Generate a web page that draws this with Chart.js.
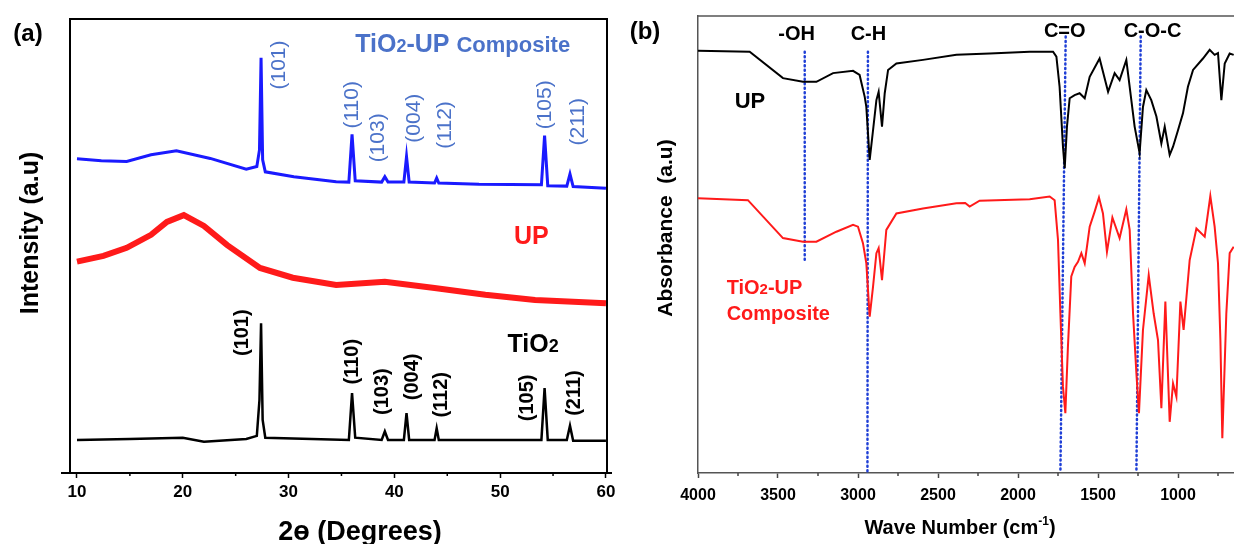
<!DOCTYPE html>
<html>
<head>
<meta charset="utf-8">
<script src="https://cdn.jsdelivr.net/npm/chart.js@4.4.0/dist/chart.umd.min.js"></script>
<style>
  html, body { margin: 0; padding: 0; background: #fff; overflow: hidden; width: 1234px; height: 544px; }
  #wrapA { position: absolute; left: 0; top: 0; width: 620px; height: 544px; }
  #wrapB { position: absolute; left: 620px; top: 0; width: 664px; height: 544px; }
</style>
</head>
<body>
<div id="wrapA"><canvas id="xrdChart" width="620" height="544"></canvas></div>
<div id="wrapB"><canvas id="ftirChart" width="664" height="544"></canvas></div>
<script>
// ---- (a) XRD, 2theta in degrees, intensity in arbitrary units ----
const xrdMajorTicks = [10, 20, 30, 40, 50, 60];
const xrdMinorTicks = [15, 25, 35, 45, 55];

const compositeXRD = [[10, 68.7], [12.3, 68.3], [14.7, 68.1], [17, 69.6], [19.4, 70.5], [22.6, 68.8], [26, 66.4], [27, 67.0],
  [27.25, 70.7], [27.4, 91.3], [27.55, 68.5], [27.8, 65.8], [30.5, 64.7], [34.5, 63.6], [35.7, 63.5], [36, 74.2],
  [36.3, 63.8], [38.8, 63.5], [39.1, 64.7], [39.4, 63.5], [40.9, 63.5], [41.15, 69.2], [41.4, 63.5], [43.8, 63.3],
  [44, 64.4], [44.2, 63.3], [48, 63.0], [53.9, 62.9], [54.2, 73.9], [54.5, 62.7], [56.3, 62.6], [56.6, 65.3],
  [56.9, 62.5], [60, 62.1]];
const upXRD = [[10, 45.7], [12.5, 47.0], [14.7, 48.8], [17, 51.7], [18.5, 54.6], [20.1, 56.1], [22, 53.7], [24.2, 49.4],
  [27.3, 44.3], [30.4, 42.1], [34.5, 40.5], [39.1, 41.2], [43.8, 39.8], [48.6, 38.3], [53.3, 37.1], [60, 36.4]];
const tio2XRD = [[10, 5.8], [15, 6.0], [20, 6.3], [22, 5.4], [26, 6.0], [27, 6.7], [27.25, 14.8], [27.4, 31.9],
  [27.55, 10.3], [27.8, 6.3], [35.7, 5.8], [36, 16.3], [36.3, 6.3], [38.8, 5.8], [39.1, 7.7], [39.4, 5.8],
  [40.9, 5.8], [41.15, 11.8], [41.4, 5.8], [43.8, 5.8], [44, 8.4], [44.2, 5.8], [53.9, 5.8], [54.2, 17.4],
  [54.5, 5.8], [56.3, 5.8], [56.6, 9.0], [56.9, 5.6], [60, 5.6]];

const peakNames = ['(101)', '(110)', '(103)', '(004)', '(112)', '(105)', '(211)'];
const compositeLabelX = [29.1, 36.0, 38.45, 41.85, 44.8, 54.3, 57.35];
const compositeLabelY = [89.7, 80.8, 73.4, 77.8, 76.3, 80.8, 77.0];
const tio2LabelX = [25.65, 36.0, 38.9, 41.75, 44.5, 52.6, 57.0];
const tio2LabelY = [29.8, 23.3, 16.6, 19.9, 15.9, 15.2, 16.3];

// ---- (b) FTIR, wave number in cm-1, absorbance in arbitrary units ----
const ftirMajorTicks = [4000, 3500, 3000, 2500, 2000, 1500, 1000, 500];
const ftirMinorTicks = [3750, 3250, 2750, 2250, 1750, 1250, 750];

const upFTIR = [[4000, 92.4], [3677, 92.2], [3469, 86.4], [3344, 85.6], [3260, 85.6], [3156, 87.5], [3031, 88.0],
  [2990, 87.1], [2958, 82.3], [2948, 80.1], [2927, 68.5], [2906, 75.0], [2885, 81.6], [2871, 83.4], [2850, 75.8],
  [2833, 83.1], [2812, 88.2], [2760, 89.6], [2594, 90.4], [2385, 91.5], [2177, 91.8], [1927, 92.2], [1781, 92.2],
  [1760, 91.1], [1740, 84.5], [1719, 71.4], [1708, 66.7], [1694, 75.8], [1677, 82.0], [1646, 82.7], [1615, 83.1],
  [1583, 82.0], [1552, 86.7], [1490, 90.7], [1437, 83.4], [1396, 87.5], [1365, 86.0], [1323, 90.4], [1302, 84.5],
  [1271, 75.8], [1240, 70.0], [1219, 80.1], [1198, 83.8], [1167, 81.6], [1135, 78.0], [1104, 72.1], [1083, 75.8],
  [1052, 69.6], [1031, 71.4], [1000, 75.0], [969, 78.7], [938, 84.5], [906, 88.2], [844, 90.7], [802, 92.6],
  [771, 91.5], [750, 91.9], [729, 81.6], [708, 89.6], [677, 91.8], [652, 91.5]];
const compositeFTIR = [[4000, 60.1], [3688, 59.7], [3469, 51.4], [3344, 50.6], [3260, 50.6], [3135, 52.8], [3031, 54.3],
  [3000, 53.9], [2969, 50.3], [2948, 45.9], [2927, 34.2], [2906, 40.8], [2885, 48.1], [2871, 49.2], [2850, 42.2],
  [2823, 53.2], [2760, 56.8], [2594, 57.9], [2385, 59.0], [2330, 59.1], [2302, 58.3], [2240, 59.6], [1927, 59.9],
  [1802, 60.5], [1771, 59.7], [1750, 51.0], [1735, 34.9], [1719, 18.9], [1704, 13.1], [1688, 27.6], [1667, 43.0],
  [1646, 45.1], [1625, 46.2], [1604, 48.1], [1583, 45.9], [1552, 53.9], [1521, 57.2], [1494, 60.3], [1469, 56.8],
  [1444, 48.4], [1410, 55.9], [1365, 51.4], [1323, 57.7], [1302, 53.2], [1281, 34.9], [1260, 21.8], [1244, 13.1],
  [1219, 31.3], [1183, 43.3], [1152, 34.9], [1125, 29.1], [1104, 14.2], [1079, 37.5], [1052, 11.2], [1031, 19.6],
  [1010, 16.7], [985, 37.5], [965, 31.3], [927, 46.6], [885, 53.5], [833, 51.7], [798, 60.6], [771, 53.9],
  [750, 45.9], [735, 29.1], [723, 7.6], [698, 34.9], [677, 48.1], [652, 49.5]];

const bandNames = ['-OH', 'C-H', 'C=O', 'C-O-C'];
const bandLabelX = [3384, 2935, 1708, 1159];
const bandLabelY = [96.3, 96.3, 96.9, 96.9];
const bandTop = [[3333, 92.2], [2938, 92.2], [1702, 95.5], [1233, 95.5]];
const bandBottom = [[3333, 46.6], [2941, 0], [1735, 0], [1260, 0]];

const FONT = '"Liberation Sans", Arial, sans-serif';
const LABEL_BLUE = '#4b72c9';

const toPoints = arr => arr.map(p => ({ x: p[0], y: p[1] }));

function richText(ctx, x, y, parts, color, align) {
  // parts: [text, size, weight, baseline shift]
  ctx.save();
  ctx.fillStyle = color;
  ctx.textAlign = 'left';
  ctx.textBaseline = 'alphabetic';
  let total = 0;
  parts.forEach(p => { ctx.font = p[2] + ' ' + p[1] + 'px ' + FONT; total += ctx.measureText(p[0]).width; });
  let cx = align === 'center' ? x - total / 2 : x;
  parts.forEach(p => {
    ctx.font = p[2] + ' ' + p[1] + 'px ' + FONT;
    ctx.fillText(p[0], cx, y + (p[3] || 0));
    cx += ctx.measureText(p[0]).width;
  });
  ctx.restore();
}

function vText(ctx, x, y, text, font, color) {
  ctx.save();
  ctx.translate(x, y);
  ctx.rotate(-Math.PI / 2);
  ctx.font = font;
  ctx.fillStyle = color;
  ctx.textAlign = 'center';
  ctx.textBaseline = 'middle';
  ctx.fillText(text, 0, 0);
  ctx.restore();
}

function minorTicks(ctx, chart, values, len, color, width) {
  const xs = chart.scales.x;
  const b = chart.chartArea.bottom;
  ctx.save();
  ctx.strokeStyle = color;
  ctx.lineWidth = width;
  values.forEach(v => {
    const px = xs.getPixelForValue(v);
    if (px < chart.chartArea.left || px > chart.chartArea.right) return;
    ctx.beginPath();
    ctx.moveTo(px, b);
    ctx.lineTo(px, b + len);
    ctx.stroke();
  });
  ctx.restore();
}

const xrdDecor = {
  id: 'xrdDecor',
  afterDraw(chart) {
    const ctx = chart.ctx;
    const a = chart.chartArea;
    const xs = chart.scales.x, ys = chart.scales.y;
    ctx.save();
    ctx.strokeStyle = '#000';
    ctx.lineWidth = 2;
    ctx.beginPath();
    ctx.moveTo(a.left, a.top);
    ctx.lineTo(a.right, a.top);
    ctx.lineTo(a.right, a.bottom);
    ctx.stroke();
    ctx.beginPath();
    ctx.moveTo(a.left - 9, a.bottom);
    ctx.lineTo(a.right + 5, a.bottom);
    ctx.stroke();
    ctx.restore();
    minorTicks(ctx, chart, xrdMinorTicks, 3, '#000', 1.5);

    peakNames.forEach((name, i) => {
      vText(ctx, xs.getPixelForValue(compositeLabelX[i]), ys.getPixelForValue(compositeLabelY[i]),
        name, '21px ' + FONT, LABEL_BLUE);
      vText(ctx, xs.getPixelForValue(tio2LabelX[i]), ys.getPixelForValue(tio2LabelY[i]),
        name, 'bold 20px ' + FONT, '#000');
    });

    richText(ctx, xs.getPixelForValue(36.3), ys.getPixelForValue(94.6) + 9,
      [['TiO', 25, 'bold'], ['2', 18, 'bold'], ['-UP ', 25, 'bold'], ['Composite', 22, 'bold']], LABEL_BLUE, 'left');
    richText(ctx, xs.getPixelForValue(51.3), ys.getPixelForValue(51.7) + 9, [['UP', 25, 'bold']], '#ff1a1a', 'left');
    richText(ctx, xs.getPixelForValue(50.7), ys.getPixelForValue(27.5) + 9,
      [['TiO', 25, 'bold'], ['2', 18, 'bold']], '#000', 'left');

    richText(ctx, 28, 41, [['(a)', 24, 'bold']], '#000', 'center');
    vText(ctx, 31, 233, 'Intensity (a.u)', 'bold 25px ' + FONT, '#000');
    richText(ctx, 360, 540, [['2ɵ (Degrees)', 27, 'bold']], '#000', 'center');
  }
};

const ftirDecor = {
  id: 'ftirDecor',
  afterDraw(chart) {
    const ctx = chart.ctx;
    const a = chart.chartArea;
    const xs = chart.scales.x, ys = chart.scales.y;
    ctx.save();
    ctx.strokeStyle = '#555';
    ctx.lineWidth = 1.5;
    ctx.beginPath();
    ctx.moveTo(a.left, a.top);
    ctx.lineTo(a.right + 20, a.top);
    ctx.stroke();
    ctx.restore();
    minorTicks(ctx, chart, ftirMinorTicks, 3, '#444', 1.5);

    bandNames.forEach((name, i) => {
      richText(ctx, xs.getPixelForValue(bandLabelX[i]), ys.getPixelForValue(bandLabelY[i]) + 7,
        [[name, 20, 'bold']], '#000', 'center');
    });
    richText(ctx, xs.getPixelForValue(3771), ys.getPixelForValue(81.6) + 8, [['UP', 22, 'bold']], '#000', 'left');
    richText(ctx, xs.getPixelForValue(3821), ys.getPixelForValue(40.7) + 7,
      [['TiO', 20, 'bold'], ['2', 15, 'bold'], ['-UP', 20, 'bold']], '#ff1a1a', 'left');
    richText(ctx, xs.getPixelForValue(3821), ys.getPixelForValue(35.0) + 7, [['Composite', 20, 'bold']], '#ff1a1a', 'left');

    richText(ctx, 25, 39, [['(b)', 24, 'bold']], '#000', 'center');
    vText(ctx, 46, 228, 'Absorbance  (a.u)', 'bold 21px ' + FONT, '#000');
    richText(ctx, 340, 534, [['Wave Number (cm', 20, 'bold'], ['-1', 12, 'bold', -9], [')', 20, 'bold']], '#000', 'center');
  }
};

new Chart(document.getElementById('xrdChart').getContext('2d'), {
  type: 'line',
  data: {
    datasets: [
      { label: 'TiO2-UP Composite', data: toPoints(compositeXRD), borderColor: '#1a1aff', borderWidth: 3 },
      { label: 'UP', data: toPoints(upXRD), borderColor: '#ff1a1a', borderWidth: 6 },
      { label: 'TiO2', data: toPoints(tio2XRD), borderColor: '#000', borderWidth: 2.5 },
    ],
  },
  options: {
    responsive: false,
    animation: false,
    devicePixelRatio: 1,
    layout: { padding: { left: 0, top: 19, right: 13, bottom: 0 } },
    elements: { point: { radius: 0 }, line: { tension: 0 } },
    plugins: { legend: { display: false }, tooltip: { enabled: false } },
    scales: {
      x: {
        type: 'linear',
        min: 9.34,
        max: 60.1,
        afterFit: s => { s.height = 71; },
        afterBuildTicks: s => { s.ticks = xrdMajorTicks.map(v => ({ value: v })); },
        ticks: { color: '#000', padding: 4, maxRotation: 0, autoSkip: false, callback: v => String(v),
          font: { family: FONT, size: 17, weight: 'bold' } },
        grid: { drawOnChartArea: false, tickLength: 5, tickWidth: 1.5, color: '#000' },
        border: { color: '#000', width: 2 },
      },
      y: {
        min: -1.6,
        max: 100,
        afterFit: s => { s.width = 70; },
        ticks: { display: false },
        grid: { display: false },
        border: { color: '#000', width: 2 },
      },
    },
  },
  plugins: [xrdDecor],
});

const bandDatasets = bandNames.map((name, i) => ({
  label: name,
  data: [{ x: bandTop[i][0], y: bandTop[i][1] }, { x: bandBottom[i][0], y: bandBottom[i][1] }],
  borderColor: '#1f3fd6',
  borderWidth: 2.5,
  borderDash: [1, 3.5],
  borderCapStyle: 'round',
}));

new Chart(document.getElementById('ftirChart').getContext('2d'), {
  type: 'line',
  data: {
    datasets: [
      { label: 'UP', data: toPoints(upFTIR), borderColor: '#000', borderWidth: 2 },
      { label: 'TiO2-UP Composite', data: toPoints(compositeFTIR), borderColor: '#ff1a1a', borderWidth: 2 },
      ...bandDatasets,
    ],
  },
  options: {
    responsive: false,
    animation: false,
    devicePixelRatio: 1,
    layout: { padding: { left: 0, top: 16, right: 10, bottom: 0 } },
    elements: { point: { radius: 0 }, line: { tension: 0 } },
    plugins: { legend: { display: false }, tooltip: { enabled: false } },
    scales: {
      x: {
        type: 'linear',
        reverse: true,
        min: 400,
        max: 4000,
        afterFit: s => { s.height = 71; },
        afterBuildTicks: s => { s.ticks = ftirMajorTicks.map(v => ({ value: v })); },
        ticks: { color: '#000', padding: 8, maxRotation: 0, autoSkip: false, callback: v => String(v),
          font: { family: FONT, size: 16, weight: 'bold' } },
        grid: { drawOnChartArea: false, tickLength: 5, tickWidth: 1.5, color: '#444' },
        border: { color: '#555', width: 1.5 },
      },
      y: {
        min: 0,
        max: 100,
        afterFit: s => { s.width = 78; },
        ticks: { display: false },
        grid: { display: false },
        border: { color: '#555', width: 1.5 },
      },
    },
  },
  plugins: [ftirDecor],
});
</script>
</body>
</html>
